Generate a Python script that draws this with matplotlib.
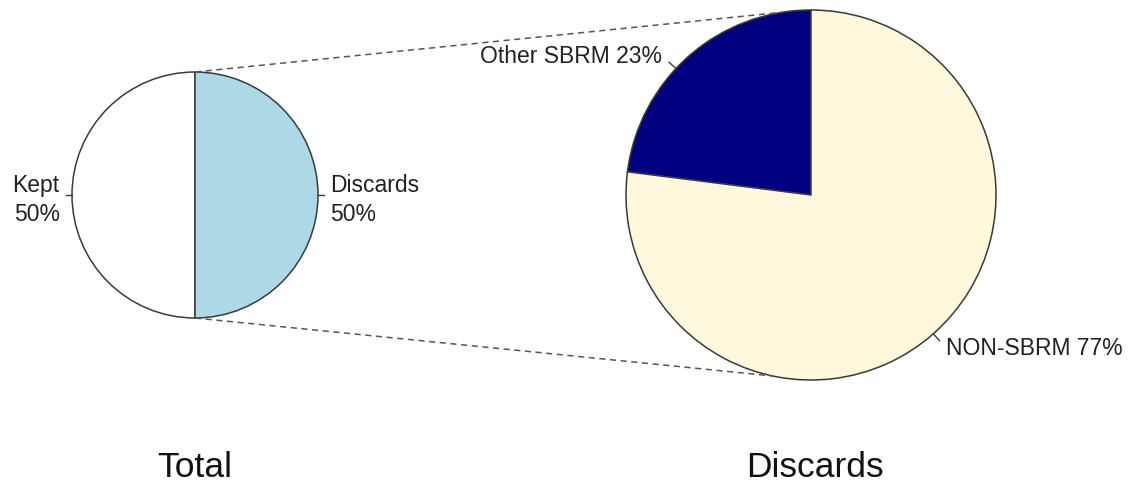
import numpy as np
import matplotlib.pyplot as plt

plt.rcParams['font.family'] = ['Liberation Sans', 'DejaVu Sans']

# data
total_labels = ['Kept', 'Discards']
total_values = [50, 50]
total_colors = ['white', '#ADD8E6']

disc_labels = ['Other SBRM', 'NON-SBRM']
disc_values = [23, 77]
disc_colors = ['#000080', '#FFF8DC']

titles = ['Total', 'Discards']

W, H = 1129, 489
fig = plt.figure(figsize=(W / 100, H / 100), dpi=100)
ax = fig.add_axes([0, 0, 1, 1])

edge = '#3a3a3a'


def draw_pie(values, labels, colors, center, radius, two_line, nudge=None, dy=0):
    ax.pie(values, colors=colors, startangle=90, counterclock=True,
           center=center, radius=radius,
           wedgeprops=dict(edgecolor=edge, linewidth=1.1))
    fracs = np.array(values) / np.sum(values)
    starts = 90 + 360 * np.concatenate([[0], np.cumsum(fracs)[:-1]])
    mids = starts + 180 * fracs
    if nudge is not None:
        mids = mids + np.array(nudge)  # label angle tweak, like the original
    for lab, v, a in zip(labels, values, np.deg2rad(mids)):
        c, s = np.cos(a), np.sin(a)
        ax.plot([center[0] + radius * c, center[0] + 1.05 * radius * c],
                [center[1] + radius * s, center[1] + 1.05 * radius * s],
                color=edge, lw=1)
        txt = f'{lab}\n{v}%' if two_line else f'{lab} {v}%'
        ax.text(center[0] + 1.1 * radius * c, center[1] + 1.1 * radius * s + dy, txt,
                ha='left' if c > 0.01 else 'right', va='center',
                fontsize=16.5, color='#222222', linespacing=1.35)


left_c, left_r = (195, H - 196), 123
right_c, right_r = (811, H - 196), 185

draw_pie(total_values, total_labels, total_colors, left_c, left_r, True, dy=-4)
draw_pie(disc_values, disc_labels, disc_colors, right_c, right_r, False, nudge=[5.5, 0])

# connecting dashed lines
for a_left, a_right in [(90, 99), (270, 258)]:
    al, ar = np.deg2rad(a_left), np.deg2rad(a_right)
    ax.plot([left_c[0] + left_r * np.cos(al), right_c[0] + right_r * np.cos(ar)],
            [left_c[1] + left_r * np.sin(al), right_c[1] + right_r * np.sin(ar)],
            color='#555555', lw=1.1, linestyle=(0, (4, 3)))

ax.text(left_c[0], H - 468, titles[0], ha='center', va='center', fontsize=25.5, color='#111111')
ax.text(right_c[0] + 4, H - 468, titles[1], ha='center', va='center', fontsize=25.5, color='#111111')

ax.set_xlim(0, W)
ax.set_ylim(0, H)
ax.set_aspect('equal')
ax.axis('off')

fig.savefig('out.png', dpi=100, facecolor='white')
